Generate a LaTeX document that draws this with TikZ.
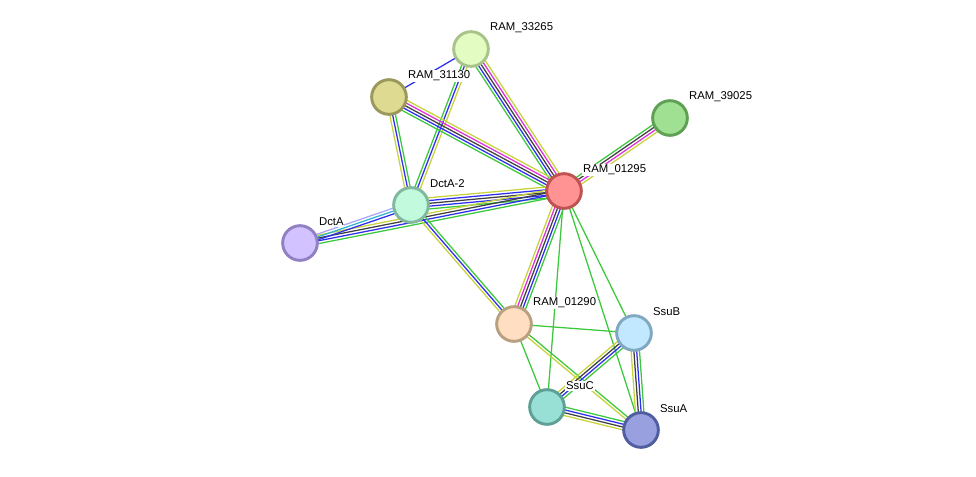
\documentclass[tikz,border=0pt]{standalone}
\usepackage{fontspec}
\setmainfont{Liberation Sans}
\usetikzlibrary{calc,backgrounds}

\definecolor{egreen}{HTML}{3CC83C}
\definecolor{eyellow}{HTML}{C8D23C}
\definecolor{eblue}{HTML}{2E2EF0}
\definecolor{eblack}{HTML}{404040}
\definecolor{emagenta}{HTML}{E030D8}
\definecolor{ecyan}{HTML}{30B4D0}
\definecolor{elav}{HTML}{A8A8F4}

\tikzset{
  prot/.style={circle,minimum size=26pt,inner sep=0pt,line width=2.2pt},
  lbl/.style={anchor=west,inner sep=0.6pt,fill=white,font=\fontsize{8.5}{10}\selectfont},
  evid/.style={line width=0.95pt}
}

% one line per evidence colour, side by side
\newcommand{\linkset}[3]{%
  \foreach \c [count=\i] in {#3} {\xdef\nlines{\i}}
  \foreach \c [count=\i] in {#3} {
    \pgfmathsetmacro{\off}{(\i-(\nlines+1)/2)*2.1}
    \draw[evid,\c] ($(#1.center)!\off pt!90:(#2.center)$) -- ($(#2.center)!\off pt!-90:(#1.center)$);
  }
}

\begin{document}
\begin{tikzpicture}[x=0.75pt,y=-0.75pt]
\useasboundingbox (0,0) rectangle (976,476);

\node[prot,fill={rgb,255:red,226;green,252;blue,194},draw={rgb,255:red,168;green,196;blue,138}] (n33265) at (471,49) {};
\node[prot,fill={rgb,255:red,222;green,218;blue,146},draw={rgb,255:red,154;green,152;blue,90}] (n31130) at (389,97) {};
\node[prot,fill={rgb,255:red,160;green,224;blue,146},draw={rgb,255:red,96;green,160;blue,84}] (n39025) at (670,118) {};
\node[prot,fill={rgb,255:red,255;green,146;blue,146},draw={rgb,255:red,192;green,82;blue,82}] (n01295) at (564,191) {};
\node[prot,fill={rgb,255:red,194;green,250;blue,222},draw={rgb,255:red,128;green,184;blue,160}] (dcta2) at (411,205) {};
\node[prot,fill={rgb,255:red,210;green,194;blue,255},draw={rgb,255:red,146;green,128;blue,196}] (dcta) at (300,243) {};
\node[prot,fill={rgb,255:red,255;green,222;blue,194},draw={rgb,255:red,184;green,160;blue,128}] (n01290) at (514,324) {};
\node[prot,fill={rgb,255:red,194;green,232;blue,255},draw={rgb,255:red,128;green,168;blue,192}] (ssub) at (634,333) {};
\node[prot,fill={rgb,255:red,152;green,224;blue,214},draw={rgb,255:red,94;green,160;blue,150}] (ssuc) at (547,407) {};
\node[prot,fill={rgb,255:red,152;green,160;blue,224},draw={rgb,255:red,80;green,94;blue,160}] (ssua) at (641,430) {};

\node[lbl] (t33265) at ($(n33265)+(18,-21)$) {RAM\_33265};
\node[lbl] (t31130) at ($(n31130)+(18,-21)$) {RAM\_31130};
\node[lbl] (t39025) at ($(n39025)+(18,-21)$) {RAM\_39025};
\node[lbl] (t01295) at ($(n01295)+(18,-21)$) {RAM\_01295};
\node[lbl] (tdcta2) at ($(dcta2)+(18,-21)$) {DctA-2};
\node[lbl] (tdcta) at ($(dcta)+(18,-21)$) {DctA};
\node[lbl] (t01290) at ($(n01290)+(18,-21)$) {RAM\_01290};
\node[lbl] (tssub) at ($(ssub)+(18,-21)$) {SsuB};
\node[lbl] (tssuc) at ($(ssuc)+(18,-21)$) {SsuC};
\node[lbl] (tssua) at ($(ssua)+(18,-21)$) {SsuA};

\begin{pgfonlayer}{background}
\linkset{n31130}{n33265}{eblue}
\linkset{n33265}{n01295}{egreen,eblue,eblack,emagenta,eyellow}
\linkset{n33265}{dcta2}{egreen,eblue,eyellow}
\linkset{n31130}{dcta2}{eyellow,eblue,egreen}
\linkset{n31130}{n01295}{egreen,eblue,eblack,emagenta,eyellow}
\linkset{n01295}{n39025}{eyellow,emagenta,eblack,egreen}
\linkset{dcta2}{n01295}{egreen,eblue,eblack,eblue,eyellow}
\linkset{dcta}{n01295}{egreen,eblue,eblack,eyellow}
\linkset{dcta}{dcta2}{eblue,ecyan,elav}
\linkset{dcta2}{n01290}{eyellow,eblue,egreen}
\linkset{n01295}{n01290}{eyellow,emagenta,eblack,eblue,egreen}
\linkset{n01295}{ssuc}{egreen}
\linkset{n01295}{ssub}{egreen}
\linkset{n01295}{ssua}{egreen}
\linkset{n01290}{ssub}{egreen}
\linkset{n01290}{ssuc}{egreen}
\linkset{n01290}{ssua}{eyellow,egreen}
\linkset{ssub}{ssuc}{eyellow,eblack,eblue,egreen}
\linkset{ssub}{ssua}{eyellow,eblack,eblue,egreen}
\linkset{ssuc}{ssua}{eyellow,eblack,eblue,egreen}
\end{pgfonlayer}
\end{tikzpicture}
\end{document}
